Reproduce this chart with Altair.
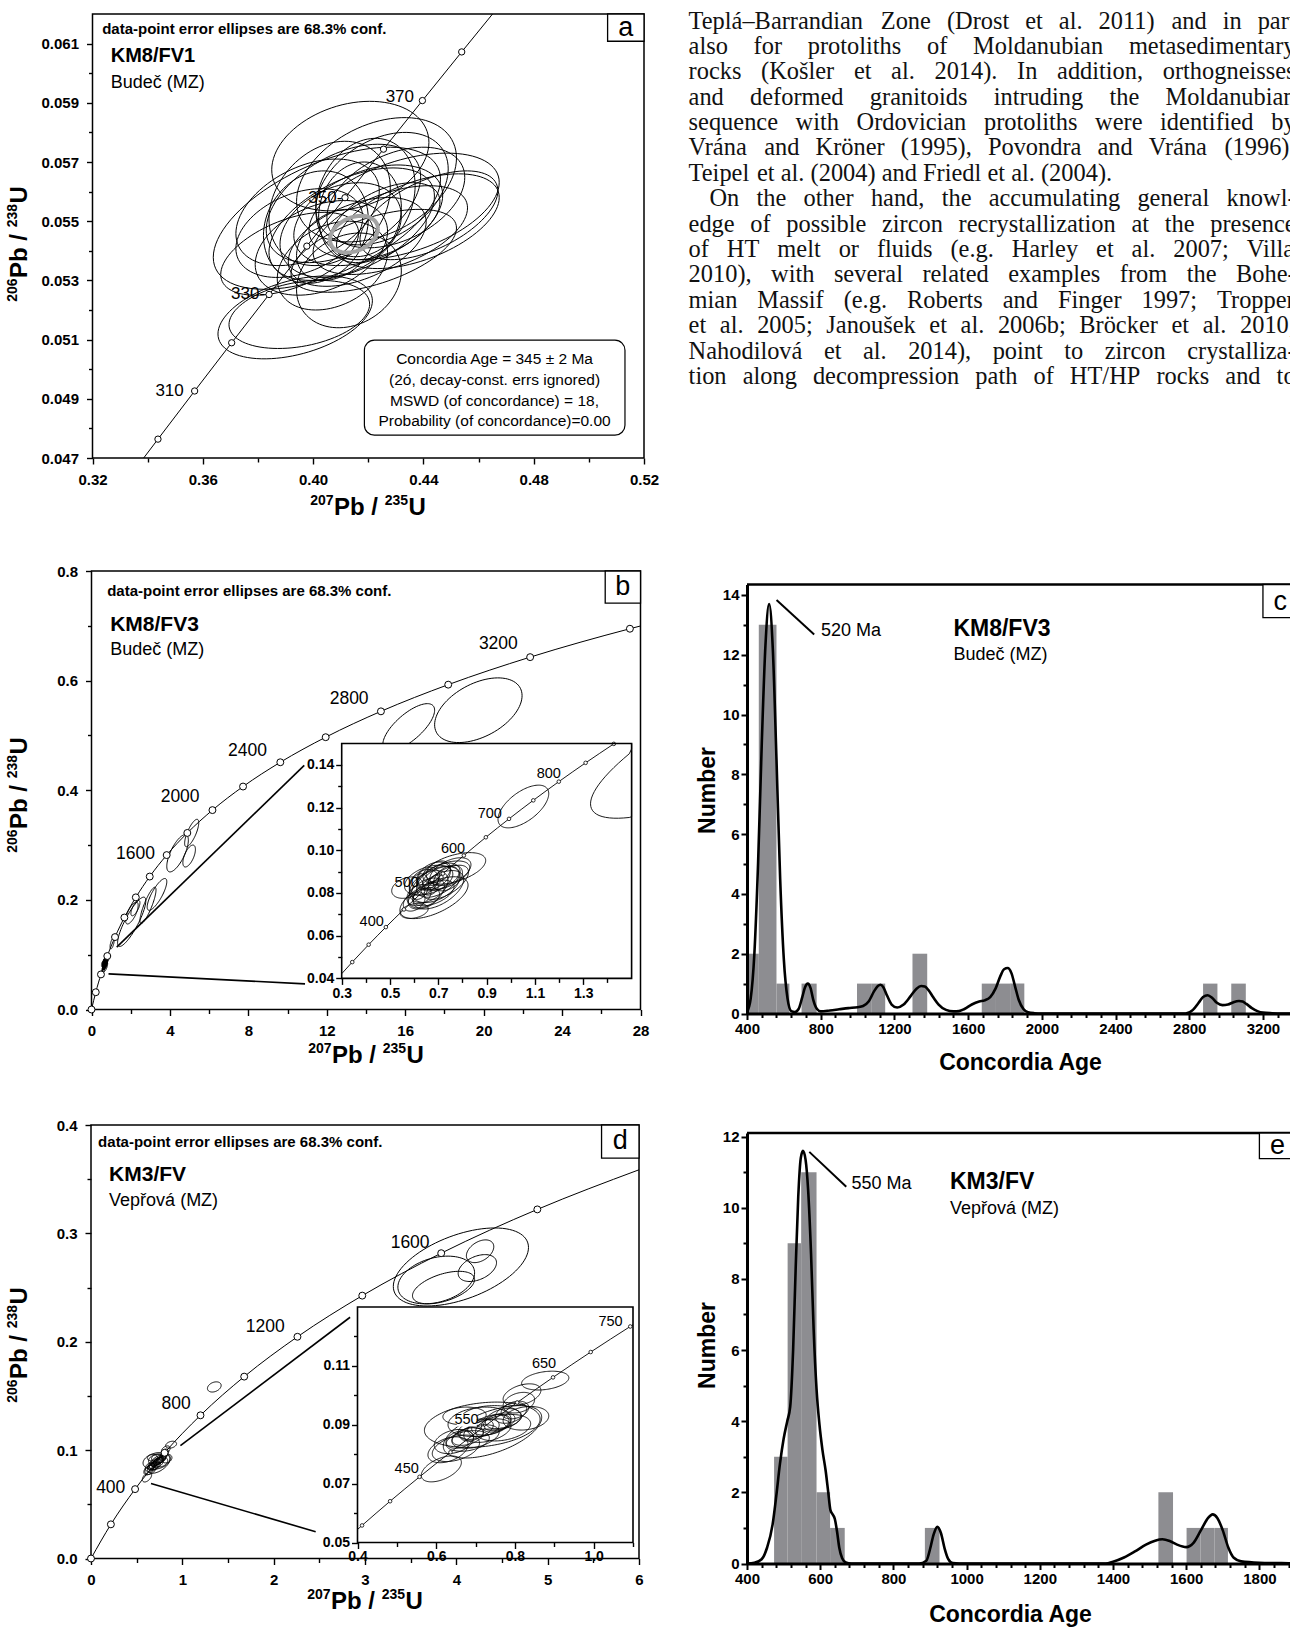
import math
import pandas as pd
import altair as alt

W, H = 1290, 1629
SANS = "Liberation Sans"
SERIF = "Liberation Serif"

# ----------------------------------------------------------------- text column
para_lines = [
    "Teplá–Barrandian Zone (Drost et al. 2011) and in part",
    "also for protoliths of Moldanubian metasedimentary",
    "rocks (Košler et al. 2014). In addition, orthogneisses",
    "and deformed granitoids intruding the Moldanubian",
    "sequence with Ordovician protoliths were identified by",
    "Vrána and Kröner (1995), Povondra and Vrána (1996),",
    "Teipel et al. (2004) and Friedl et al. (2004).",
    "On the other hand, the accumulating general knowl-",
    "edge of possible zircon recrystallization at the presence",
    "of HT melt or fluids (e.g. Harley et al. 2007; Villa",
    "2010), with several related examples from the Bohe-",
    "mian Massif (e.g. Roberts and Finger 1997; Tropper",
    "et al. 2005; Janoušek et al. 2006b; Bröcker et al. 2010;",
    "Nahodilová et al. 2014), point to zircon crystalliza-",
    "tion along decompression path of HT/HP rocks and to",
]
para_justified = [True, True, True, True, True, True, False, True, True, True, True, True, True, True, True]
para_indent = [0, 0, 0, 0, 0, 0, 0, 1, 0, 0, 0, 0, 0, 0, 0]

# ----------------------------------------------------------------- panel a
a_conc_x = [0.33856, 0.34374, 0.35704, 0.37047, 0.38403, 0.39773, 0.41156, 0.42553, 0.43964, 0.45389, 0.46508]
a_conc_y = [0.04700, 0.047637, 0.049264, 0.050893, 0.052524, 0.054158, 0.055794, 0.057434, 0.059075, 0.060719, 0.06200]
a_mark_x = [0.34374, 0.35704, 0.37047, 0.38403, 0.39773, 0.41156, 0.42553, 0.43964, 0.45389]
a_mark_y = [0.047637, 0.049264, 0.050893, 0.052524, 0.054158, 0.055794, 0.057434, 0.059075, 0.060719]
a_lab_t = ["310", "330-", "350-", "370"]
a_lab_x = [0.3531, 0.3826, 0.4106, 0.4366]
a_lab_y = [0.04926, 0.05253, 0.05579, 0.05918]
# error ellipses: centre x, centre y, half-width x, half-height y, correlation
a_ell = [
    (0.4135, 0.05720, 0.0285, 0.00185, 0.25), (0.3935, 0.05175, 0.0280, 0.00140, 0.40),
    (0.3950, 0.05185, 0.0255, 0.00115, 0.30), (0.4050, 0.05510, 0.0412, 0.00240, 0.55),
    (0.4330, 0.05550, 0.0345, 0.00180, 0.45), (0.4380, 0.05500, 0.0295, 0.00160, 0.50),
    (0.4250, 0.05610, 0.0240, 0.00190, 0.35), (0.4200, 0.05520, 0.0270, 0.00170, 0.40),
    (0.4100, 0.05470, 0.0220, 0.00160, 0.30), (0.4160, 0.05430, 0.0250, 0.00150, 0.45),
    (0.4030, 0.05410, 0.0240, 0.00160, 0.35), (0.3980, 0.05530, 0.0260, 0.00180, 0.40),
    (0.4190, 0.05580, 0.0180, 0.00200, 0.20), (0.4280, 0.05470, 0.0280, 0.00150, 0.50),
    (0.4070, 0.05350, 0.0200, 0.00150, 0.30), (0.4130, 0.05300, 0.0190, 0.00160, 0.20),
    (0.4220, 0.05400, 0.0300, 0.00140, 0.55), (0.4010, 0.05480, 0.0190, 0.00190, 0.15),
    (0.4170, 0.05530, 0.0150, 0.00170, 0.10), (0.4300, 0.05580, 0.0250, 0.00170, 0.40),
    (0.4110, 0.05560, 0.0280, 0.00200, 0.45), (0.3950, 0.05460, 0.0230, 0.00150, 0.35),
    (0.4420, 0.05520, 0.0250, 0.00150, 0.55), (0.4080, 0.05420, 0.0140, 0.00120, 0.30),
    (0.4260, 0.05500, 0.0200, 0.00130, 0.50), (0.4140, 0.05490, 0.0300, 0.00190, 0.50),
    (0.3915, 0.05390, 0.0250, 0.00140, 0.50), (0.4230, 0.05640, 0.0290, 0.00210, 0.35),
    (0.4060, 0.05560, 0.0220, 0.00210, 0.25),
]
a_age_ell = [(0.4148, 0.05456, 0.0087, 0.00062, 0.30)]
a_box_lines = ["Concordia Age = 345 ± 2 Ma", "(2ó, decay-const. errs ignored)",
               "MSWD (of concordance) = 18,", "Probability (of concordance)=0.00"]
a_box_line_y = [0.05034, 0.04963, 0.04893, 0.04825]

# ----------------------------------------------------------------- panel b
b_conc_x = [0, 0.21770, 0.48281, 0.80563, 1.19873, 1.67740, 2.26029, 2.97009, 3.83441, 4.88691,
            6.16850, 7.72917, 9.62960, 11.9437, 14.7617, 18.1931, 22.3716, 27.4596, 28.0]
b_conc_y = [0, 0.031511, 0.064016, 0.097543, 0.132133, 0.167818, 0.204587, 0.242556, 0.281721, 0.322114,
            0.363771, 0.406773, 0.451056, 0.496780, 0.543959, 0.592633, 0.642850, 0.694662, 0.69970]
b_lab_t = ["1600", "2000", "2400", "2800", "3200"]
b_lab_x = [2.24, 4.52, 7.96, 13.14, 20.75]
b_lab_y = [0.2834, 0.387, 0.4723, 0.5667, 0.666]
b_big = [
    (16.18, 0.515, 1.32, 0.043, 0.72), (19.73, 0.546, 2.23, 0.059, 0.45),
    (4.39, 0.285, 0.55, 0.034, 0.70), (4.98, 0.280, 0.32, 0.020, 0.60),
    (5.11, 0.322, 0.36, 0.025, 0.75), (3.34, 0.210, 0.50, 0.029, 0.80),
    (2.88, 0.190, 0.41, 0.033, 0.85), (2.24, 0.185, 0.23, 0.014, 0.70),
    (2.05, 0.160, 0.72, 0.045, 0.85), (2.06, 0.176, 0.32, 0.020, 0.70),
]
b_small = [
    (1.052, 0.1205, 0.105, 0.0100, 0.60),
    (0.766, 0.0915, 0.130, 0.0074, 0.50), (0.682, 0.0778, 0.141, 0.0098, 0.60),
    (0.572, 0.0825, 0.065, 0.0050, 0.30), (0.600, 0.0716, 0.058, 0.0035, 0.30),
    (0.700, 0.0860, 0.090, 0.0080, 0.50), (0.690, 0.0840, 0.100, 0.0085, 0.45),
    (0.720, 0.0880, 0.110, 0.0070, 0.55), (0.660, 0.0830, 0.080, 0.0075, 0.40),
    (0.650, 0.0800, 0.075, 0.0070, 0.45), (0.700, 0.0815, 0.105, 0.0090, 0.55),
    (0.640, 0.0850, 0.060, 0.0060, 0.30), (0.680, 0.0880, 0.070, 0.0065, 0.35),
    (0.730, 0.0850, 0.095, 0.0080, 0.60), (0.620, 0.0790, 0.050, 0.0050, 0.30),
    (0.660, 0.0870, 0.045, 0.0050, 0.20), (0.700, 0.0900, 0.050, 0.0050, 0.30),
    (0.670, 0.0820, 0.030, 0.0030, 0.40), (0.690, 0.0860, 0.030, 0.0025, 0.50),
    (0.600, 0.0760, 0.045, 0.0045, 0.35), (0.710, 0.0870, 0.075, 0.0055, 0.45),
    (0.750, 0.0900, 0.085, 0.0065, 0.50), (0.640, 0.0775, 0.065, 0.0050, 0.40),
    (0.680, 0.0800, 0.085, 0.0060, 0.50), (0.660, 0.0860, 0.100, 0.0070, 0.40),
    (0.620, 0.0830, 0.040, 0.0060, 0.20), (0.740, 0.0870, 0.060, 0.0060, 0.40),
]
b_lead_x0 = [1.286, 0.869]
b_lead_y0 = [0.1139, 0.065]
b_lead_x1 = [10.85, 10.89]
b_lead_y1 = [0.4454, 0.0468]
bi_conc_x = [0.3, 0.34374, 0.41156, 0.48281, 0.55766, 0.63628, 0.71887, 0.80563, 0.89677, 0.99251,
             1.09308, 1.19873, 1.30971, 1.42634, 1.42864]
bi_conc_y = [0.042192, 0.047637, 0.055794, 0.064016, 0.072300, 0.080650, 0.089064, 0.097543, 0.106090,
             0.114701, 0.123382, 0.132133, 0.140944, 0.149825, 0.15]
bi_lab_t = ["400", "500", "600", "700", "800"]
bi_lab_x = [0.424, 0.569, 0.761, 0.913, 1.157]
bi_lab_y = [0.0662, 0.0845, 0.1008, 0.1172, 0.1356]

# ----------------------------------------------------------------- panel c
c_bin_start = [400, 464, 560, 696, 997, 1074, 1298, 1674, 1751, 1828, 2875, 3028]
c_bin_end = [464, 560, 630, 778, 1074, 1150, 1378, 1751, 1828, 1905, 2953, 3107]
c_count = [2, 13, 1, 1, 1, 1, 2, 1, 1, 1, 1, 1]
c_kde_age = [400, 420, 440, 460, 480, 500, 520, 540, 560, 580, 600, 620, 640, 660, 680, 700, 715, 730,
             745, 760, 780, 800, 850, 900, 950, 1000, 1030, 1060, 1090, 1110, 1125, 1140, 1160, 1185,
             1215, 1250, 1290, 1320, 1345, 1365, 1385, 1410, 1440, 1480, 1520, 1550, 1580, 1620, 1660,
             1690, 1720, 1750, 1775, 1795, 1815, 1835, 1855, 1875, 1900, 1925, 1960, 2000, 2780, 2820,
             2850, 2875, 2900, 2925, 2950, 2980, 3010, 3040, 3070, 3090, 3110, 3140, 3170, 3200, 3250,
             3300, 3400]
c_kde_n = [0.05, 0.5, 2.0, 5.0, 9.0, 12.3, 13.7, 12.2, 8.5, 4.5, 1.8, 0.5, 0.08, 0.05, 0.15, 0.55, 0.88,
           1.0, 0.85, 0.45, 0.15, 0.07, 0.10, 0.14, 0.18, 0.21, 0.25, 0.40, 0.75, 0.92, 0.96, 0.88, 0.60,
           0.30, 0.20, 0.30, 0.60, 0.83, 0.92, 0.90, 0.78, 0.55, 0.30, 0.12, 0.07, 0.08, 0.15, 0.30, 0.40,
           0.44, 0.55, 0.85, 1.25, 1.48, 1.52, 1.35, 0.90, 0.45, 0.15, 0.04, 0.01, 0.0, 0.0, 0.12, 0.35,
           0.55, 0.61, 0.52, 0.36, 0.28, 0.30, 0.38, 0.42, 0.40, 0.32, 0.18, 0.08, 0.03, 0.01, 0.0, 0.0]

# ----------------------------------------------------------------- panel d
d_conc_x = [0, 0.21770, 0.48281, 0.80563, 1.19873, 1.67740, 2.26029, 2.97009, 3.83441, 4.88691, 6.0]
d_conc_y = [0, 0.031511, 0.064016, 0.097543, 0.132133, 0.167818, 0.204587, 0.242556, 0.281721, 0.322114, 0.35867]
d_lab_t = ["400", "800", "1200", "1600"]
d_lab_x = [0.216, 0.933, 1.908, 3.494]
d_lab_y = [0.0646, 0.1428, 0.2139, 0.2912]
d_big = [
    (4.05, 0.269, 0.74, 0.036, 0.50), (3.78, 0.257, 0.42, 0.022, 0.30),
    (3.86, 0.250, 0.34, 0.015, 0.50), (4.23, 0.268, 0.21, 0.0124, 0.40),
    (4.26, 0.2835, 0.15, 0.0105, 0.40), (1.35, 0.1583, 0.075, 0.0047, 0.30),
]
d_small = [
    (0.877, 0.1050, 0.060, 0.0032, 0.30), (0.818, 0.1002, 0.048, 0.0037, 0.40),
    (0.810, 0.0975, 0.040, 0.0035, 0.30), (0.717, 0.0900, 0.147, 0.0077, 0.25),
    (0.743, 0.0876, 0.125, 0.0089, 0.55), (0.828, 0.0922, 0.058, 0.0040, 0.20),
    (0.613, 0.0750, 0.051, 0.0044, 0.50), (0.630, 0.0815, 0.051, 0.0044, 0.40),
    (0.645, 0.0843, 0.050, 0.0041, 0.30), (0.672, 0.0930, 0.055, 0.0030, 0.10),
    (0.740, 0.0925, 0.077, 0.0040, 0.10), (0.660, 0.0850, 0.035, 0.0030, 0.30),
    (0.680, 0.0860, 0.040, 0.0030, 0.40), (0.690, 0.0870, 0.030, 0.0025, 0.30),
    (0.700, 0.0885, 0.045, 0.0035, 0.40), (0.720, 0.0890, 0.040, 0.0030, 0.30),
    (0.740, 0.0900, 0.050, 0.0035, 0.40), (0.750, 0.0905, 0.035, 0.0030, 0.30),
    (0.760, 0.0910, 0.040, 0.0030, 0.40), (0.770, 0.0920, 0.045, 0.0035, 0.30),
    (0.790, 0.0940, 0.040, 0.0035, 0.40), (0.800, 0.0950, 0.035, 0.0030, 0.30),
    (0.700, 0.0860, 0.060, 0.0040, 0.40), (0.730, 0.0880, 0.060, 0.0040, 0.40),
    (0.680, 0.0845, 0.055, 0.0035, 0.30), (0.650, 0.0820, 0.060, 0.0045, 0.40),
    (0.770, 0.0890, 0.070, 0.0045, 0.30), (0.710, 0.0910, 0.080, 0.0050, 0.20),
]
d_lead_x0 = [0.979, 0.657]
d_lead_y0 = [0.1042, 0.0692]
d_lead_x1 = [2.837, 2.46]
d_lead_y1 = [0.2226, 0.0247]
di_conc_x = [0.4, 0.41156, 0.48281, 0.55766, 0.63628, 0.71887, 0.80563, 0.89677, 0.99251, 1.09308, 1.1]
di_conc_y = [0.054429, 0.055794, 0.064016, 0.072300, 0.080650, 0.089064, 0.097543, 0.106090, 0.114701, 0.123382, 0.12397]
di_lab_t = ["450", "550", "650", "750"]
di_lab_x = [0.525, 0.677, 0.874, 1.043]
di_lab_y = [0.0751, 0.0915, 0.1106, 0.1249]

# ----------------------------------------------------------------- panel e
e_bin_start = [474, 511, 548, 590, 627, 886, 1524, 1601, 1639, 1677]
e_bin_end = [511, 548, 590, 627, 667, 926, 1564, 1639, 1677, 1714]
e_count = [3, 9, 11, 2, 1, 1, 2, 1, 1, 1]
e_kde_age = [400, 420, 440, 455, 470, 480, 490, 500, 510, 518, 526, 533, 540, 547, 553, 560, 567, 575,
             582, 590, 598, 606, 615, 622, 628, 634, 640, 646, 652, 660, 670, 685, 870, 890, 900, 910,
             920, 930, 940, 950, 962, 980, 1380, 1400, 1430, 1460, 1490, 1515, 1535, 1555, 1575, 1600,
             1620, 1640, 1660, 1672, 1685, 1700, 1715, 1730, 1750, 1800, 1860, 1920, 2000]
e_kde_n = [0.0, 0.02, 0.12, 0.45, 1.1, 1.9, 2.8, 3.5, 4.0, 4.4, 6.0, 8.3, 10.3, 11.4, 11.6, 11.35, 10.5,
           8.7, 6.6, 4.9, 3.9, 3.2, 2.6, 2.0, 1.5, 1.38, 1.25, 0.9, 0.45, 0.15, 0.03, 0.0, 0.0, 0.08,
           0.4, 0.82, 1.03, 0.85, 0.42, 0.12, 0.01, 0.0, 0.0, 0.05, 0.17, 0.34, 0.53, 0.64, 0.68, 0.63,
           0.53, 0.46, 0.58, 0.93, 1.28, 1.38, 1.28, 0.93, 0.45, 0.16, 0.06, 0.02, 0.01, 0.0, 0.0]

# ----------------------------------------------------------------- layout (pixels)
COL_W = 607.0       # width of the justified text column
PARA_SIZE = 24.4
LAY = {
    "t": dict(x=[0, 601.4], y=[0, 14], px=[688.6, 1290.0], py=[21.5, 377.0]),
    "a": dict(x=[0.32, 0.52], y=[0.047, 0.062], px=[92.5, 644.0], py=[458.0, 14.0]),
    "b": dict(x=[0, 28], y=[0, 0.8], px=[91.5, 640.5], py=[1009.5, 571.0]),
    "bi": dict(x=[0.3, 1.5], y=[0.04, 0.15], px=[341.7, 631.6], py=[978.4, 743.5]),
    "c": dict(x=[400, 3400], y=[0, 14.35], px=[747.0, 1299.8], py=[1013.5, 584.5]),
    "d": dict(x=[0, 6], y=[0, 0.4], px=[91.0, 639.0], py=[1558.5, 1125.0]),
    "di": dict(x=[0.4, 1.1], y=[0.05, 0.13], px=[357.5, 633.0], py=[1542.5, 1307.0]),
    "e": dict(x=[400, 2000], y=[0, 12.1], px=[747.0, 1332.6], py=[1563.5, 1133.0]),
}


def inv(p, ch, pix):
    L = LAY[p]
    d0, d1 = L[ch]
    r0, r1 = L["p" + ch]
    return d0 + (pix - r0) / (r1 - r0) * (d1 - d0)


def sc(p, ch, clamp=False):
    L = LAY[p]
    return alt.Scale(domain=L[ch], range=L["p" + ch], zero=False, nice=False, clamp=clamp)


def X(p, field="x", axis=None, clamp=False):
    return alt.X(field, type="quantitative", scale=sc(p, "x", clamp), axis=axis)


def Y(p, field="y", axis=None, clamp=False):
    return alt.Y(field, type="quantitative", scale=sc(p, "y", clamp), axis=axis)


def ax(p, ch, values, fmt=None, major=True, size=15, tsize=6, twidth=1.4, domain=False,
       dwidth=1.5, title=None, tsz=23, tx=None, ty=None, z=0, pad=2):
    L = LAY[p]
    kw = dict(values=values, grid=False, domain=domain, tickColor="black",
              tickSize=tsize, tickWidth=twidth, zindex=z)
    if ch == "x":
        kw.update(orient="bottom", offset=L["py"][0] - H)
    else:
        kw.update(orient="left", offset=-L["px"][0])
    if domain:
        kw.update(domainColor="black", domainWidth=dwidth)
    if major:
        kw.update(format=fmt, labelFont=SANS, labelFontSize=size, labelFontWeight="bold",
                  labelColor="black", labelPadding=pad, labelFlush=False, labelOverlap=False)
    else:
        kw.update(labels=False)
    if title:
        kw.update(title=title, titleFont=SANS, titleFontSize=tsz, titleFontWeight="bold",
                  titleColor="black", titleAlign="center", titleBaseline="middle",
                  titleX=tx, titleY=ty, titleAngle=0 if ch == "x" else 270)
    else:
        kw.update(title=None)
    return alt.Axis(**kw)


def ellipse_df(params, n=90):
    rows = []
    for i, (cx, cy, axx, ayy, rho) in enumerate(params):
        s = math.sqrt(1 - rho * rho)
        for k in range(n + 1):
            t = 2 * math.pi * k / n
            rows.append({"id": i, "k": k, "x": cx + axx * math.cos(t),
                         "y": cy + ayy * (rho * math.cos(t) + s * math.sin(t))})
    return pd.DataFrame(rows)


def ell_layer(p, df, width=0.9, color="black", clamp=False):
    return alt.Chart(df).mark_line(color=color, strokeWidth=width).encode(
        x=X(p, clamp=clamp), y=Y(p, clamp=clamp), detail="id:N", order="k:Q")


def line_layer(p, xs, ys, width=1.0, xaxis=None, yaxis=None, clamp=False, interp="monotone"):
    df = pd.DataFrame({"x": xs, "y": ys, "k": list(range(len(xs)))})
    return alt.Chart(df).mark_line(color="black", strokeWidth=width, interpolate=interp).encode(
        x=X(p, axis=xaxis, clamp=clamp), y=Y(p, axis=yaxis, clamp=clamp), order="k:Q")


def mark_layer(p, xs, ys, size=40, sw=1.0):
    df = pd.DataFrame({"x": xs, "y": ys})
    return alt.Chart(df).mark_point(shape="circle", filled=True, fill="white", stroke="black",
                                    strokeWidth=sw, size=size, opacity=1).encode(x=X(p), y=Y(p))


def text_layer(p, xs, ys, texts, size, weight="normal", align="left", font=SANS, **mk):
    df = pd.DataFrame({"x": xs, "y": ys, "t": texts})
    return alt.Chart(df).mark_text(align=align, baseline="middle", font=font, fontSize=size,
                                   fontWeight=weight, color="black", **mk).encode(
        x=X(p), y=Y(p), text="t:N")


def rect_layer(p, x0, x1, y0, y1, xaxis=None, yaxis=None, **mk):
    df = pd.DataFrame({"x": [x0], "x2": [x1], "y": [y0], "y2": [y1]})
    return alt.Chart(df).mark_rect(**mk).encode(
        x=X(p, axis=xaxis), x2="x2:Q", y=Y(p, axis=yaxis), y2="y2:Q")


def rule_layer(p, x0s, y0s, x1s, y1s, width=1.5):
    df = pd.DataFrame({"x": x0s, "y": y0s, "x2": x1s, "y2": y1s})
    return alt.Chart(df).mark_rule(color="black", strokeWidth=width).encode(
        x=X(p), y=Y(p), x2="x2:Q", y2="y2:Q")


def frame(p, xaxis=None, yaxis=None, width=1.5):
    L = LAY[p]
    return rect_layer(p, L["x"][0], L["x"][1], L["y"][0], L["y"][1], xaxis=xaxis, yaxis=yaxis,
                      fillOpacity=0, stroke="black", strokeWidth=width)


def label_box(p, x0, x1, y0, y1, letter, lx, ly):
    return [rect_layer(p, x0, x1, y0, y1, fill="white", stroke="black", strokeWidth=1.3),
            text_layer(p, [lx], [ly], [letter], 27, align="center")]


# ---- isotope-ratio axis titles made of normal text and superscript numbers
BOLD_W = {"P": 0.667, "b": 0.611, " ": 0.278, "/": 0.278, "U": 0.722, "d": 0.556}
MAIN_SZ, SUP_SZ = 24, 14


def iso_title(p, cpx, cpy, sup1, sup2, angle):
    w_sup = 3 * 0.556 * SUP_SZ
    w_pb = (BOLD_W["P"] + BOLD_W["b"] + BOLD_W[" "] + BOLD_W["/"]) * MAIN_SZ
    w_sp = BOLD_W[" "] * MAIN_SZ
    w_u = BOLD_W["U"] * MAIN_SZ
    total = w_sup + 0.5 + w_pb + w_sp + w_sup + 0.5 + w_u
    d0 = -total / 2
    pieces = [(sup1, SUP_SZ, d0, -2.0),
              ("Pb /", MAIN_SZ, d0 + w_sup + 0.5, 8.4),
              (sup2, SUP_SZ, d0 + w_sup + 0.5 + w_pb + w_sp, -2.0),
              ("U", MAIN_SZ, d0 + 2 * w_sup + 1.0 + w_pb + w_sp, 8.4)]
    out = []
    df = pd.DataFrame({"x": [inv(p, "x", cpx)], "y": [inv(p, "y", cpy)]})
    for txt, size, dx, dy in pieces:
        out.append(alt.Chart(df).mark_text(text=txt, align="left", baseline="alphabetic", font=SANS,
                                           fontSize=size, fontWeight="bold", color="black",
                                           angle=angle, dx=dx, dy=dy).encode(x=X(p), y=Y(p)))
    return out


# ---- justified paragraph (Times-compatible advance widths, 1/1000 em)
TW = {" ": 250, "(": 333, ")": 333, ",": 250, ".": 250, ";": 278, ":": 278, "-": 333, "–": 500,
      "/": 278, "A": 722, "B": 667, "C": 667, "D": 722, "E": 611, "F": 556, "G": 722, "H": 722,
      "I": 333, "J": 389, "K": 722, "L": 611, "M": 889, "N": 722, "O": 722, "P": 556, "Q": 722,
      "R": 667, "S": 556, "T": 611, "U": 722, "V": 722, "W": 944, "X": 722, "Y": 722, "Z": 611,
      "a": 444, "b": 500, "c": 444, "d": 500, "e": 444, "f": 333, "g": 500, "h": 500, "i": 278,
      "j": 278, "k": 500, "l": 278, "m": 778, "n": 500, "o": 500, "p": 500, "q": 500, "r": 333,
      "s": 389, "t": 278, "u": 500, "v": 500, "w": 722, "x": 500, "y": 500, "z": 444}
ACC = {"á": "a", "š": "s", "ö": "o", "ř": "r", "é": "e", "ó": "o", "ú": "u", "í": "i"}


def word_w(w):
    return sum(TW.get(ACC.get(ch, ch), 500) for ch in w) / 1000.0 * PARA_SIZE


word_rows = []
for li, line in enumerate(para_lines):
    words = line.split(" ")
    widths = [word_w(w) for w in words]
    start = 20.8 if para_indent[li] else 0.0
    if para_justified[li] and len(words) > 1:
        gap = (COL_W - start - sum(widths)) / (len(words) - 1)
    else:
        gap = 0.25 * PARA_SIZE
    pos = start
    for w, ww in zip(words, widths):
        word_rows.append({"x": pos, "y": li, "t": w})
        pos += ww + gap
word_df = pd.DataFrame(word_rows)

layers = []

# ------------------------------------------------------------ paragraph text
layers.append(alt.Chart(word_df).mark_text(align="left", baseline="middle", font=SERIF,
                                           fontSize=PARA_SIZE, color="#111111").encode(
    x=X("t"), y=Y("t"), text="t:N"))

# ------------------------------------------------------------ panel a
layers.append(frame("a",
                    xaxis=ax("a", "x", [0.34, 0.38, 0.42, 0.46, 0.50], major=False, tsize=4),
                    yaxis=ax("a", "y", [0.048, 0.050, 0.052, 0.054, 0.056, 0.058, 0.060], major=False, tsize=4)))
layers.append(ell_layer("a", ellipse_df(a_ell), width=1.0))
layers.append(ell_layer("a", ellipse_df(a_age_ell), width=4, color="#a3a3a3"))
layers.append(line_layer("a", a_conc_x, a_conc_y, width=1.0, interp="linear",
                         xaxis=ax("a", "x", [0.32, 0.36, 0.40, 0.44, 0.48, 0.52], ".2f", pad=8),
                         yaxis=ax("a", "y", [0.047, 0.049, 0.051, 0.053, 0.055, 0.057, 0.059, 0.061], ".3f", pad=8)))
layers += iso_title("a", 368, 507, "207", "235", 0)
layers += iso_title("a", 19, 244, "206", "238", 270)
layers.append(mark_layer("a", a_mark_x, a_mark_y, size=40))
layers.append(text_layer("a", a_lab_x, a_lab_y, a_lab_t, 17, align="right"))
layers.append(text_layer("a", [0.3235], [0.06148], ["data-point error ellipses are 68.3% conf."], 15, weight="bold"))
layers.append(text_layer("a", [0.3266], [0.06058], ["KM8/FV1"], 20, weight="bold"))
layers.append(text_layer("a", [0.3266], [0.05966], ["Budeč (MZ)"], 18))
layers.append(rect_layer("a", 0.4186, 0.5131, 0.04777, 0.05098, fill="white", stroke="black",
                         strokeWidth=1.2, cornerRadius=10))
layers.append(text_layer("a", [0.4658] * 4, a_box_line_y, a_box_lines, 15.5, align="center"))
layers += label_box("a", 0.5068, 0.52, 0.06108, 0.062, "a", 0.5134, 0.06152)

# ------------------------------------------------------------ panel b
layers.append(frame("b",
                    xaxis=ax("b", "x", [2, 6, 10, 14, 18, 22, 26], major=False, tsize=4),
                    yaxis=ax("b", "y", [0.1, 0.3, 0.5, 0.7], major=False, tsize=4)))
layers.append(ell_layer("b", ellipse_df(b_big + b_small), width=1.0))
layers.append(line_layer("b", b_conc_x, b_conc_y, width=1.0,
                         xaxis=ax("b", "x", [0, 4, 8, 12, 16, 20, 24, 28], "d", pad=8),
                         yaxis=ax("b", "y", [0, 0.2, 0.4, 0.6, 0.8], ".1f", pad=8)))
layers += iso_title("b", 366, 1055, "207", "235", 0)
layers += iso_title("b", 19, 795, "206", "238", 270)
layers.append(mark_layer("b", b_conc_x[:-1], b_conc_y[:-1], size=48))
layers.append(text_layer("b", b_lab_x, b_lab_y, b_lab_t, 17.5, align="center"))
layers.append(rule_layer("b", b_lead_x0, b_lead_y0, b_lead_x1, b_lead_y1, width=1.6))
layers.append(text_layer("b", [0.80], [0.7636], ["data-point error ellipses are 68.3% conf."], 15, weight="bold"))
layers.append(text_layer("b", [0.95], [0.702], ["KM8/FV3"], 21, weight="bold"))
layers.append(text_layer("b", [0.95], [0.655], ["Budeč (MZ)"], 18))
layers += label_box("b", 26.2, 28, 0.7415, 0.8, "b", 27.1, 0.7705)
# inset b
L = LAY["bi"]
layers.append(rect_layer("bi", L["x"][0], L["x"][1], L["y"][0], L["y"][1], fill="white", strokeWidth=0))
layers.append(ell_layer("bi", ellipse_df(b_big + b_small, n=120), width=0.9, clamp=True))
layers.append(line_layer("bi", bi_conc_x, bi_conc_y, width=0.9, clamp=True,
                         xaxis=ax("bi", "x", [0.3, 0.5, 0.7, 0.9, 1.1, 1.3], ".1f", size=14, z=1),
                         yaxis=ax("bi", "y", [0.04, 0.06, 0.08, 0.10, 0.12, 0.14], ".2f", size=14, z=1)))
layers.append(mark_layer("bi", bi_conc_x[1:-1], bi_conc_y[1:-1], size=13, sw=0.8))
layers.append(text_layer("bi", bi_lab_x, bi_lab_y, bi_lab_t, 14.5, align="center"))
layers.append(frame("bi", width=1.6,
                    xaxis=ax("bi", "x", [0.4, 0.6, 0.8, 1.0, 1.2, 1.4], major=False, tsize=4, z=1),
                    yaxis=ax("bi", "y", [0.05, 0.07, 0.09, 0.11, 0.13], major=False, tsize=4, z=1)))

# ------------------------------------------------------------ panel c
cdf = pd.DataFrame({"x": c_bin_start, "x2": c_bin_end, "y": c_count, "y2": [0] * len(c_count)})
layers.append(alt.Chart(cdf).mark_rect(color="#8d8d91").encode(
    x=X("c", axis=ax("c", "x", [400, 800, 1200, 1600, 2000, 2400, 2800, 3200], "d", domain=True,
                     dwidth=3, twidth=2, title="Concordia Age", tx=1020, ty=49, z=1)),
    x2="x2:Q",
    y=Y("c", axis=ax("c", "y", [0, 2, 4, 6, 8, 10, 12, 14], "d", domain=True, dwidth=3, twidth=2,
                     title="Number", tx=-40, ty=790, z=1)),
    y2="y2:Q"))
c_minor_x = [v for v in range(480, 3400, 80) if (v - 400) % 400 != 0]
layers.append(alt.Chart(pd.DataFrame({"x": [400], "x2": [3400], "y": [14.35]})).mark_rule(
    color="black", strokeWidth=2.5).encode(
    x=X("c", axis=ax("c", "x", c_minor_x, major=False, tsize=4, twidth=2, z=1)), x2="x2:Q",
    y=Y("c", axis=ax("c", "y", [1, 3, 5, 7, 9, 11, 13], major=False, tsize=4, twidth=2, z=1))))
layers.append(line_layer("c", c_kde_age, c_kde_n, width=2.6))
layers.append(rule_layer("c", [560.3], [13.83], [764.5], [12.68], width=2))
layers.append(text_layer("c", [801.8], [12.81], ["520 Ma"], 18))
layers.append(text_layer("c", [1520], [12.87], ["KM8/FV3"], 23, weight="bold"))
layers.append(text_layer("c", [1520], [12.0], ["Budeč (MZ)"], 18))
layers += label_box("c", 3200, 3450, 13.24, 14.35, "c", 3294, 13.78)

# ------------------------------------------------------------ panel d
layers.append(frame("d",
                    xaxis=ax("d", "x", [0.5, 1.5, 2.5, 3.5, 4.5, 5.5], major=False, tsize=4),
                    yaxis=ax("d", "y", [0.05, 0.15, 0.25, 0.35], major=False, tsize=4)))
layers.append(ell_layer("d", ellipse_df(d_big + d_small), width=1.0))
layers.append(line_layer("d", d_conc_x, d_conc_y, width=1.0,
                         xaxis=ax("d", "x", [0, 1, 2, 3, 4, 5, 6], "d", pad=8),
                         yaxis=ax("d", "y", [0, 0.1, 0.2, 0.3, 0.4], ".1f", pad=8)))
layers += iso_title("d", 365, 1601, "207", "235", 0)
layers += iso_title("d", 19, 1345, "206", "238", 270)
layers.append(mark_layer("d", d_conc_x[:-1], d_conc_y[:-1], size=48))
layers.append(text_layer("d", d_lab_x, d_lab_y, d_lab_t, 17.5, align="center"))
layers.append(rule_layer("d", d_lead_x0, d_lead_y0, d_lead_x1, d_lead_y1, width=1.6))
layers.append(text_layer("d", [0.078], [0.3845], ["data-point error ellipses are 68.3% conf."], 15, weight="bold"))
layers.append(text_layer("d", [0.198], [0.3536], ["KM3/FV"], 21, weight="bold"))
layers.append(text_layer("d", [0.198], [0.3298], ["Vepřová (MZ)"], 18))
layers += label_box("d", 5.59, 6.0, 0.3695, 0.4, "d", 5.795, 0.3855)
# inset d
L = LAY["di"]
layers.append(rect_layer("di", L["x"][0], L["x"][1], L["y"][0], L["y"][1], fill="white", strokeWidth=0))
layers.append(ell_layer("di", ellipse_df(d_big + d_small, n=120), width=0.9, clamp=True))
layers.append(line_layer("di", di_conc_x, di_conc_y, width=0.9, clamp=True,
                         xaxis=ax("di", "x", [0.4, 0.6, 0.8, 1.0], ".1f", size=14, z=1, pad=1),
                         yaxis=ax("di", "y", [0.05, 0.07, 0.09, 0.11], ".2f", size=14, z=1)))
layers.append(mark_layer("di", di_conc_x[1:-1], di_conc_y[1:-1], size=13, sw=0.8))
layers.append(rect_layer("di", 0.652, 0.703, 0.0894, 0.0937, fill="white", strokeWidth=0))
layers.append(text_layer("di", di_lab_x, di_lab_y, di_lab_t, 14.5, align="center"))
layers.append(frame("di", width=1.6,
                    xaxis=ax("di", "x", [0.5, 0.7, 0.9, 1.1], major=False, tsize=4, z=1),
                    yaxis=ax("di", "y", [0.06, 0.08, 0.10, 0.12], major=False, tsize=4, z=1)))

# ------------------------------------------------------------ panel e
edf = pd.DataFrame({"x": e_bin_start, "x2": e_bin_end, "y": e_count, "y2": [0] * len(e_count)})
layers.append(alt.Chart(edf).mark_rect(color="#8d8d91").encode(
    x=X("e", axis=ax("e", "x", [400, 600, 800, 1000, 1200, 1400, 1600, 1800, 2000], "d", domain=True,
                     dwidth=3, twidth=2, title="Concordia Age", tx=1010, ty=51, z=1)),
    x2="x2:Q",
    y=Y("e", axis=ax("e", "y", [0, 2, 4, 6, 8, 10, 12], "d", domain=True, dwidth=3, twidth=2,
                     title="Number", tx=-40, ty=1345, z=1)),
    y2="y2:Q"))
e_minor_x = [v for v in range(440, 2000, 40) if (v - 400) % 200 != 0]
layers.append(alt.Chart(pd.DataFrame({"x": [400], "x2": [2000], "y": [12.1]})).mark_rule(
    color="black", strokeWidth=2.5).encode(
    x=X("e", axis=ax("e", "x", e_minor_x, major=False, tsize=4, twidth=2, z=1)), x2="x2:Q",
    y=Y("e", axis=ax("e", "y", [1, 3, 5, 7, 9, 11], major=False, tsize=4, twidth=2, z=1))))
layers.append(line_layer("e", e_kde_age, e_kde_n, width=2.6))
layers.append(rule_layer("e", [570.2], [11.57], [671.2], [10.59], width=2))
layers.append(text_layer("e", [685.5], [10.66], ["550 Ma"], 18))
layers.append(text_layer("e", [954.5], [10.71], ["KM3/FV"], 23, weight="bold"))
layers.append(text_layer("e", [954.5], [9.96], ["Vepřová (MZ)"], 18))
layers += label_box("e", 1800, 1950, 11.38, 12.1, "e", 1849.5, 11.73)

chart = (
    alt.layer(*layers)
    .resolve_scale(x="independent", y="independent")
    .resolve_axis(x="independent", y="independent")
    .properties(width=W, height=H, padding=0, background="white",
                autosize=alt.AutoSizeParams(type="none"))
    .configure_view(stroke=None)
)

chart.save("out.html", embed_options={"renderer": "svg", "actions": False})
